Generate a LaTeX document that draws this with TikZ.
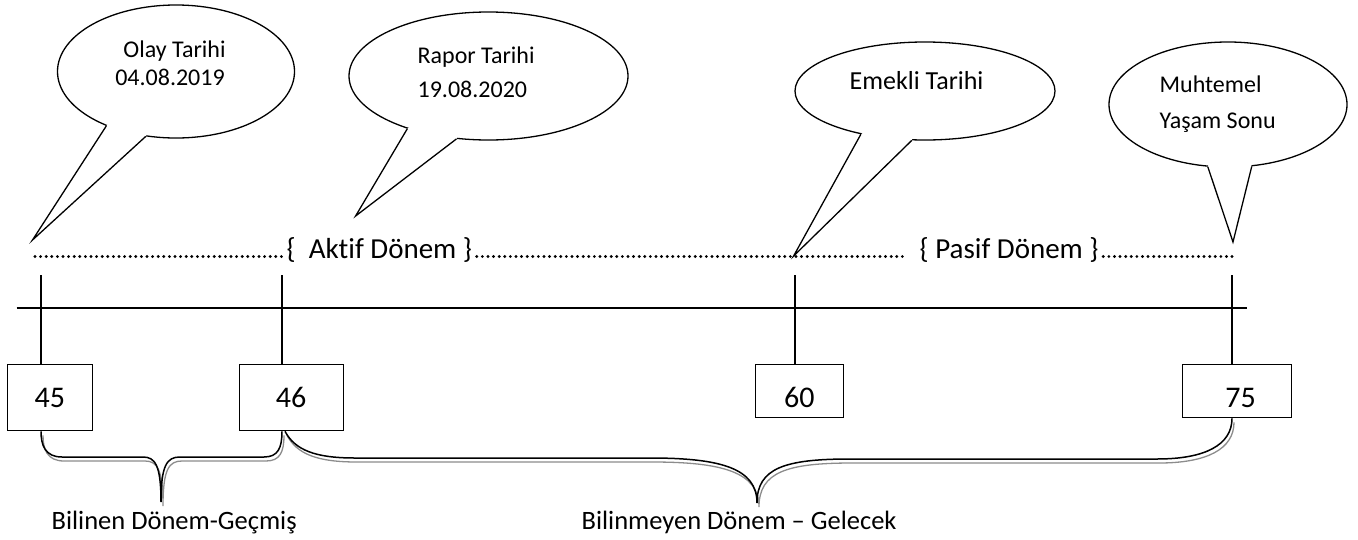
\documentclass[tikz,border=0pt]{standalone}
\usepackage{fontspec}
\setmainfont[Ligatures=NoCommon]{Carlito}
\usetikzlibrary{shapes.geometric,calc}
\newcommand\calltail[4]{%
  \fill[white] (#1.#2) -- (#4) -- (#1.#3) -- ($(#1.#3)!4pt!(#1.center)$) -- ($(#1.#2)!4pt!(#1.center)$) -- cycle;
  \draw[line join=miter] (#1.#2) -- (#4) -- (#1.#3);}
\begin{document}
\begin{tikzpicture}[x=1pt,y=-1pt,line width=1.3pt,
  bubble/.style={ellipse,draw,fill=white,inner sep=0pt},
  ctext/.style={font=\fontsize{24}{29}\selectfont,inner sep=0pt},
  tltext/.style={font=\fontsize{29}{34}\selectfont,inner sep=0pt},
  lbl/.style={font=\fontsize{26.5}{32}\selectfont,inner sep=0pt},
  numbox/.style={draw,inner sep=0pt,anchor=north west,font=\fontsize{30}{36}\selectfont,text height=43pt},
  dotline/.style={line width=3.2pt,line cap=round,dash pattern=on 0pt off 5.6pt},
  braceline/.style={line width=1.5pt},
  braceshadow/.style={line width=1.3pt,draw=black!45,transform canvas={shift={(2pt,-4pt)}}}]
\useasboundingbox (0,0) rectangle (1358,539);

% callout bubbles
\node[bubble,minimum width=237pt,minimum height=133pt] (cOlay) at (176,71.5) {};
\node[bubble,minimum width=279pt,minimum height=128pt] (cRap) at (488.5,76) {};
\node[bubble,minimum width=260pt,minimum height=98pt] (cEm) at (925,91) {};
\node[bubble,minimum width=238pt,minimum height=125pt] (cMuh) at (1228,104.5) {};

\coordinate (pOlay) at (32.5,240);
\coordinate (pRap) at (355.6,216);
\coordinate (pEm) at (793.6,256);
\coordinate (pMuh) at (1233,242);
\calltail{cOlay}{218}{245}{pOlay}
\calltail{cRap}{213.5}{243.4}{pRap}
\calltail{cEm}{214.5}{255}{pEm}
\calltail{cMuh}{252.5}{291.5}{pMuh}

\node[ctext,anchor=base] (tOlay1) at (174.5,57) {Olay Tarihi};
\node[ctext,anchor=base] (tOlay2) at (170,85) {04.08.2019};
\node[ctext,anchor=base west] (tRap1) at (417,63) {Rapor Tarihi};
\node[ctext,anchor=base west] (tRap2) at (417,97) {19.08.2020};
\node[ctext,font=\fontsize{26}{31}\selectfont,anchor=base west] (tEm) at (849,89) {Emekli Tarihi};
\node[ctext,anchor=base west] (tMuh1) at (1159,92) {Muhtemel};
\node[ctext,anchor=base west] (tMuh2) at (1159,128) {Yaşam Sonu};

% dotted period line
\node[tltext,anchor=base west] (aktif) at (286,258) {\{\ \ Akti\kern0ptf Dönem \}};
\node[tltext,anchor=base west] (pasif) at (919,258) {\{ Pasif Dönem \}};
\coordinate (dL) at (35,256.5);
\coordinate (dR) at (1237,256.5);
\draw[dotline] (dL) -- ([xshift=-3pt,yshift=1.5pt]aktif.base west);
\draw[dotline] ([xshift=4pt,yshift=1.5pt]aktif.base east) -- ([xshift=-16pt,yshift=1.5pt]pasif.base west);
\draw[dotline] ([xshift=4pt,yshift=1.5pt]pasif.base east) -- (dR);

% axis
\coordinate (axL) at (16.5,308);
\coordinate (axR) at (1247,308);
\draw (axL) -- (axR);

% boxes
\node[numbox,minimum width=85.5pt,text depth=23pt] (b45) at (6.5,364) {45};
\node[numbox,minimum width=104pt,text depth=23pt] (b46) at (238.5,364) {46};
\node[numbox,minimum width=88pt,text depth=10pt] (b60) at (754.6,364) {60};
\node[numbox,minimum width=109pt,text depth=10pt] (b75) at (1182,364) {\hspace*{7pt}75};

% ticks
\coordinate (k1) at (41,275);
\coordinate (k2) at (282,275);
\coordinate (k3) at (795,275);
\coordinate (k4) at (1232,275);
\draw (k1) -- (k1 |- b45.north);
\draw (k2) -- (k2 |- b46.north);
\draw (k3) -- (k3 |- b60.north);
\draw (k4) -- (k4 |- b75.north);

% braces
\coordinate (br1s) at (k1 |- b45.south);
\coordinate (br1e) at (k2 |- b46.south);
\coordinate (br2s) at ($(k2 |- b46.south)+(3,0)$);
\coordinate (br2e) at (k4 |- b75.south);
\foreach \st in {braceshadow,braceline}{
  \draw[\st] (br1s) .. controls (41,445) and (45,457) .. (62,457) -- (143,457)
    .. controls (155,457) and (161,465) .. (161,502)
    .. controls (161,465) and (167,457) .. (180,457) -- (264,457)
    .. controls (278,457) and (282,448) .. (br1e);
  \draw[\st] (br2s) .. controls (295,450) and (315,458) .. (355,458) -- (650,458)
    .. controls (720,458) and (757,468) .. (757,503)
    .. controls (757,468) and (785,459) .. (850,459) -- (1157,459)
    .. controls (1205,459) and (1232,445) .. (br2e);
}

\node[lbl,anchor=base west] (lb1) at (51,529) {Bilinen Dönem-Geçmiş};
\node[lbl,anchor=base west] (lb2) at (581,529) {Bilinmeyen Dönem – Gelecek};
\end{tikzpicture}
\end{document}
